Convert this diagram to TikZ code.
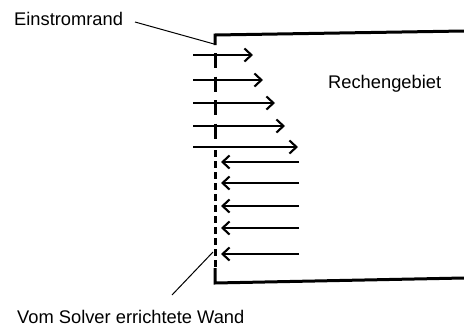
\documentclass[tikz,border=0pt]{standalone}
\usepackage{fontspec}
\setmainfont{Liberation Sans}
\usetikzlibrary{arrows.meta}
\begin{document}
\begin{tikzpicture}[x=1pt,y=-1pt,
  label/.style={inner sep=0pt,font=\fontsize{18.3}{22}\selectfont},
  boundary/.style={line width=3pt,line join=miter},
  flow/.style={line width=2.1pt,-{Straight Barb[length=7pt,width=13pt,line width=2.1pt]}},
  leader/.style={line width=1pt}]
\useasboundingbox (0,0) rectangle (464,327);

% labels
\node[label,anchor=base west] (inflow) at (14,25) {Einstromrand};
\node[label,anchor=base west] (domain) at (328,88) {Rechengebiet};
\node[label,anchor=base west] (wall) at (17,323) {Vom Solver errichtete Wand};

% boundary of the domain
\draw[boundary] (464,31) -- (215,35) -- (215,45);
\draw[boundary,dash pattern=on 15pt off 8.5pt] (215,53) -- (215,147);
\draw[boundary,dash pattern=on 7pt off 4pt] (215,150) -- (215,270);
\draw[boundary] (215,268) -- (215,283) -- (464,278);

% inflow arrows
\foreach \y/\x [count=\i] in {55/253,80/263,103/275,126/285,147/298}{
  \coordinate (in\i a) at (193,\y);
  \coordinate (in\i b) at (\x,\y);
  \draw[flow] (in\i a) -- (in\i b);
}
% backflow arrows
\foreach \y [count=\i] in {162,183,206,228,254}{
  \coordinate (out\i a) at (299,\y);
  \coordinate (out\i b) at (221,\y);
  \draw[flow] (out\i a) -- (out\i b);
}

% leader lines
\coordinate (inflowEnd) at (214,44);
\coordinate (inflowStart) at (135,22);
\draw[leader] (inflowStart) -- (inflowEnd);
\coordinate (wallEnd) at (213,252);
\coordinate (wallStart) at (172,295);
\draw[leader] (wallStart) -- (wallEnd);
\end{tikzpicture}
\end{document}
